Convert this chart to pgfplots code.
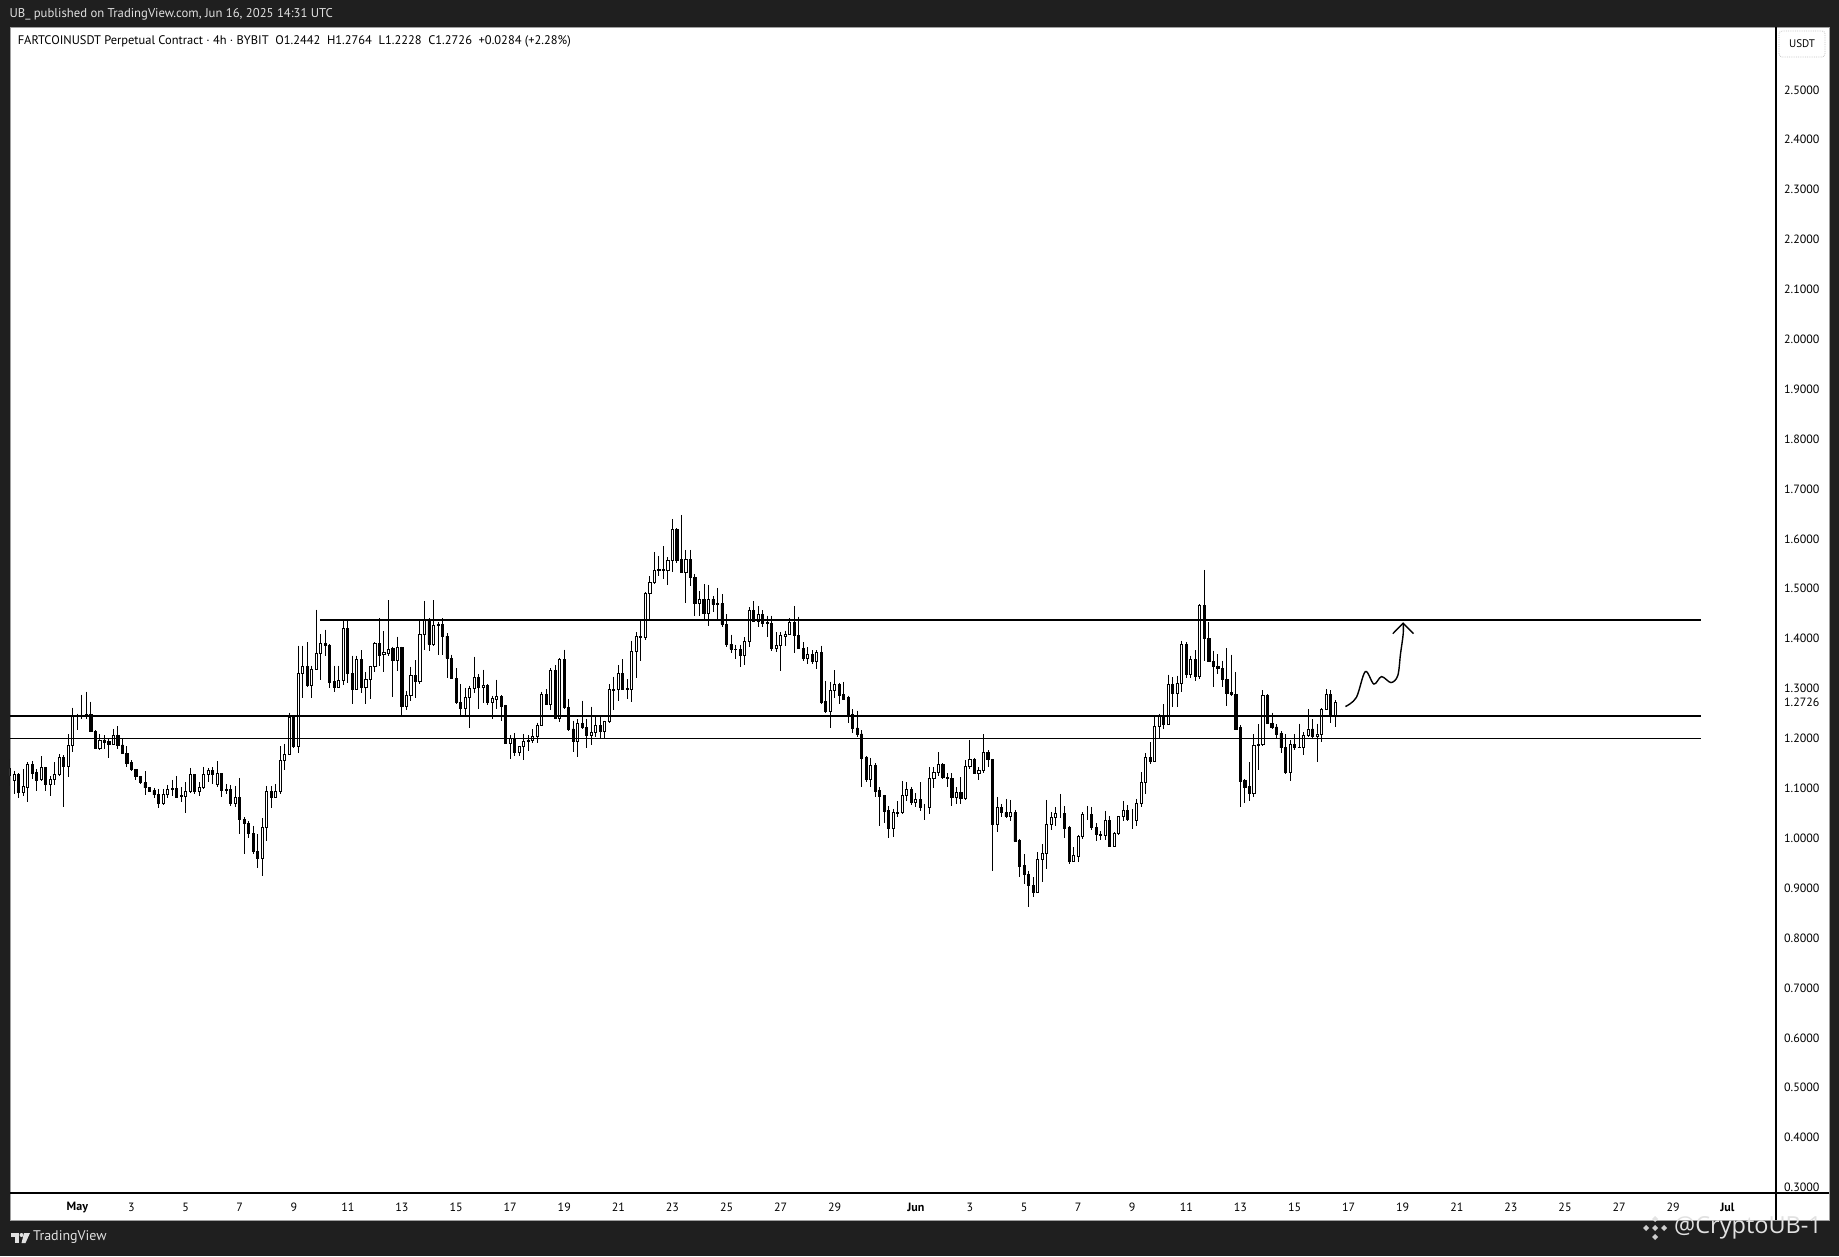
\documentclass[border=0pt]{standalone}
\usepackage{fontspec}
\setmainfont{PT Sans}
\newfontfamily\wmfont{Open Sans}
\usepackage{pgfplots}
\usepackage{pgfplotstable}
\pgfplotsset{compat=1.18}
\definecolor{tvframe}{RGB}{31,31,31}
\definecolor{tvborder}{RGB}{160,160,160}
\definecolor{tvtext}{RGB}{225,225,225}

% 4h candles, k = candle index (k/6 = days after May 1, 00:00)
\pgfplotstableread{
k o h l c
-15 1.125 1.158 1.105 1.140
-14 1.115 1.135 1.089 1.127
-13 1.127 1.130 1.081 1.092
-12 1.092 1.139 1.085 1.103
-11 1.102 1.152 1.072 1.147
-10 1.147 1.155 1.119 1.130
-9 1.132 1.139 1.095 1.115
-8 1.117 1.164 1.115 1.141
-7 1.141 1.143 1.095 1.107
-6 1.107 1.125 1.084 1.117
-5 1.117 1.152 1.107 1.127
-4 1.127 1.168 1.125 1.161
-3 1.161 1.166 1.062 1.144
-2 1.144 1.208 1.122 1.187
-1 1.187 1.262 1.172 1.244
0 1.244 1.250 1.216 1.245
1 1.245 1.288 1.239 1.246
2 1.245 1.294 1.239 1.248
3 1.248 1.274 1.212 1.214
4 1.214 1.216 1.179 1.180
5 1.180 1.209 1.176 1.197
6 1.197 1.206 1.179 1.192
7 1.194 1.199 1.161 1.189
8 1.189 1.219 1.186 1.206
9 1.206 1.224 1.179 1.187
10 1.187 1.199 1.168 1.169
11 1.169 1.184 1.143 1.150
12 1.152 1.156 1.134 1.137
13 1.137 1.139 1.117 1.124
14 1.124 1.125 1.109 1.111
15 1.111 1.134 1.087 1.101
16 1.101 1.103 1.092 1.094
17 1.095 1.101 1.081 1.087
18 1.087 1.099 1.061 1.069
19 1.069 1.099 1.067 1.087
20 1.087 1.107 1.081 1.097
21 1.098 1.117 1.085 1.099
22 1.099 1.125 1.082 1.082
23 1.084 1.102 1.072 1.085
24 1.084 1.112 1.050 1.093
25 1.093 1.141 1.090 1.127
26 1.127 1.129 1.089 1.093
27 1.093 1.112 1.085 1.101
28 1.101 1.143 1.099 1.127
29 1.127 1.141 1.112 1.135
30 1.135 1.142 1.109 1.127
31 1.107 1.154 1.102 1.129
32 1.129 1.130 1.082 1.095
33 1.097 1.109 1.089 1.095
34 1.097 1.107 1.065 1.070
35 1.070 1.105 1.062 1.081
36 1.081 1.121 1.009 1.037
37 1.038 1.042 0.968 1.030
38 1.030 1.035 1.000 1.010
39 1.010 1.025 0.968 0.974
40 0.974 1.009 0.940 0.959
41 0.959 1.041 0.924 1.021
42 1.021 1.105 0.994 1.093
43 1.093 1.105 1.061 1.082
44 1.082 1.109 1.080 1.093
45 1.093 1.184 1.089 1.156
46 1.156 1.189 1.136 1.167
47 1.167 1.252 1.166 1.242
48 1.242 1.246 1.181 1.184
49 1.184 1.386 1.170 1.331
50 1.331 1.386 1.281 1.344
51 1.344 1.393 1.304 1.306
52 1.306 1.346 1.281 1.339
53 1.339 1.458 1.337 1.371
54 1.371 1.409 1.317 1.391
55 1.391 1.418 1.366 1.387
56 1.387 1.389 1.302 1.312
57 1.314 1.346 1.294 1.302
58 1.302 1.346 1.301 1.317
59 1.317 1.439 1.308 1.421
60 1.421 1.439 1.312 1.331
61 1.331 1.366 1.270 1.299
62 1.299 1.366 1.297 1.359
63 1.359 1.377 1.292 1.302
64 1.302 1.333 1.270 1.319
65 1.319 1.346 1.279 1.344
66 1.344 1.393 1.333 1.391
67 1.391 1.441 1.346 1.366
68 1.368 1.415 1.333 1.372
69 1.370 1.477 1.366 1.379
70 1.381 1.384 1.284 1.357
71 1.357 1.404 1.336 1.383
72 1.383 1.384 1.244 1.264
73 1.264 1.296 1.257 1.287
74 1.287 1.344 1.276 1.326
75 1.326 1.357 1.281 1.314
76 1.314 1.437 1.310 1.409
77 1.409 1.476 1.377 1.436
78 1.436 1.441 1.375 1.389
79 1.389 1.477 1.386 1.426
80 1.426 1.433 1.368 1.429
81 1.429 1.441 1.368 1.405
82 1.405 1.411 1.321 1.361
83 1.361 1.368 1.319 1.321
84 1.321 1.341 1.270 1.272
85 1.272 1.309 1.248 1.261
86 1.261 1.302 1.246 1.282
87 1.282 1.306 1.220 1.300
88 1.300 1.364 1.291 1.322
89 1.322 1.329 1.260 1.302
90 1.302 1.338 1.272 1.307
91 1.307 1.309 1.267 1.272
92 1.272 1.286 1.239 1.280
93 1.279 1.318 1.260 1.284
94 1.284 1.287 1.236 1.264
95 1.266 1.268 1.189 1.191
96 1.191 1.207 1.159 1.200
97 1.200 1.211 1.164 1.172
98 1.172 1.185 1.164 1.184
99 1.184 1.209 1.156 1.194
100 1.194 1.206 1.174 1.196
101 1.196 1.218 1.191 1.204
102 1.204 1.232 1.191 1.226
103 1.226 1.294 1.224 1.289
104 1.289 1.299 1.267 1.269
105 1.269 1.341 1.258 1.336
106 1.336 1.347 1.239 1.240
107 1.240 1.361 1.234 1.359
108 1.359 1.378 1.260 1.262
109 1.262 1.280 1.214 1.218
110 1.219 1.236 1.172 1.194
111 1.194 1.239 1.162 1.231
112 1.231 1.276 1.219 1.222
113 1.222 1.240 1.180 1.206
114 1.206 1.264 1.187 1.212
115 1.212 1.244 1.202 1.226
116 1.226 1.244 1.199 1.214
117 1.214 1.236 1.199 1.234
118 1.234 1.309 1.232 1.298
119 1.297 1.324 1.258 1.299
120 1.298 1.347 1.276 1.331
121 1.331 1.359 1.298 1.299
122 1.300 1.319 1.280 1.298
123 1.298 1.396 1.274 1.374
124 1.374 1.413 1.322 1.405
125 1.405 1.436 1.356 1.402
126 1.402 1.494 1.398 1.491
127 1.491 1.525 1.439 1.513
128 1.513 1.574 1.510 1.536
129 1.536 1.566 1.526 1.538
130 1.537 1.585 1.520 1.538
131 1.536 1.563 1.508 1.556
132 1.556 1.640 1.534 1.618
133 1.618 1.621 1.552 1.556
134 1.558 1.648 1.532 1.533
135 1.533 1.578 1.471 1.558
136 1.558 1.578 1.506 1.523
137 1.523 1.530 1.446 1.471
138 1.471 1.496 1.446 1.479
139 1.479 1.509 1.439 1.451
140 1.451 1.508 1.426 1.479
141 1.479 1.486 1.453 1.469
142 1.469 1.502 1.435 1.470
143 1.470 1.489 1.424 1.429
144 1.429 1.449 1.383 1.389
145 1.389 1.408 1.371 1.379
146 1.379 1.388 1.359 1.378
147 1.379 1.388 1.343 1.367
148 1.367 1.403 1.348 1.394
149 1.394 1.463 1.384 1.457
150 1.457 1.475 1.433 1.435
151 1.435 1.466 1.423 1.449
152 1.449 1.457 1.424 1.431
153 1.431 1.446 1.403 1.432
154 1.431 1.446 1.375 1.381
155 1.381 1.413 1.373 1.387
156 1.387 1.413 1.335 1.406
157 1.405 1.416 1.386 1.409
158 1.409 1.441 1.408 1.433
159 1.433 1.466 1.371 1.406
160 1.406 1.444 1.379 1.381
161 1.381 1.393 1.355 1.361
162 1.361 1.383 1.350 1.368
163 1.368 1.377 1.350 1.354
164 1.354 1.377 1.339 1.373
165 1.373 1.386 1.270 1.272
166 1.274 1.316 1.252 1.254
167 1.254 1.314 1.221 1.296
168 1.296 1.337 1.282 1.308
169 1.308 1.312 1.270 1.286
170 1.288 1.314 1.277 1.279
171 1.282 1.286 1.232 1.248
172 1.249 1.259 1.210 1.220
173 1.221 1.256 1.202 1.208
174 1.209 1.216 1.102 1.160
175 1.161 1.164 1.112 1.117
176 1.117 1.161 1.102 1.145
177 1.145 1.150 1.083 1.094
178 1.095 1.103 1.025 1.083
179 1.085 1.087 1.030 1.054
180 1.055 1.065 1.000 1.020
181 1.020 1.059 1.002 1.051
182 1.050 1.074 1.042 1.051
183 1.051 1.115 1.049 1.085
184 1.085 1.112 1.074 1.097
185 1.097 1.103 1.067 1.072
186 1.072 1.091 1.062 1.077
187 1.077 1.112 1.054 1.062
188 1.063 1.069 1.037 1.063
189 1.061 1.143 1.049 1.119
190 1.119 1.142 1.101 1.132
191 1.132 1.172 1.125 1.148
192 1.148 1.150 1.119 1.121
193 1.121 1.130 1.103 1.120
194 1.119 1.130 1.064 1.081
195 1.081 1.102 1.069 1.091
196 1.091 1.122 1.069 1.079
197 1.079 1.156 1.077 1.144
198 1.144 1.197 1.139 1.157
199 1.157 1.161 1.129 1.130
200 1.130 1.142 1.117 1.135
201 1.135 1.208 1.130 1.172
202 1.172 1.176 1.143 1.157
203 1.157 1.159 0.935 1.027
204 1.027 1.083 1.012 1.062
205 1.062 1.069 1.043 1.051
206 1.051 1.079 1.041 1.044
207 1.044 1.077 1.034 1.051
208 1.051 1.057 0.994 0.994
209 0.995 0.999 0.922 0.944
210 0.945 0.968 0.908 0.927
211 0.928 0.935 0.863 0.906
212 0.906 0.922 0.883 0.892
213 0.892 0.972 0.890 0.958
214 0.958 0.988 0.912 0.970
215 0.970 1.077 0.938 1.027
216 1.027 1.052 1.017 1.042
217 1.042 1.062 1.025 1.049
218 1.049 1.089 1.041 1.049
219 1.049 1.065 1.000 1.020
220 1.021 1.025 0.948 0.954
221 0.954 0.982 0.952 0.965
222 0.964 1.007 0.952 1.003
223 1.003 1.052 0.999 1.047
224 1.047 1.065 1.037 1.047
225 1.047 1.063 1.017 1.022
226 1.022 1.030 0.994 1.007
227 1.007 1.014 0.997 1.006
228 1.005 1.055 0.997 1.035
229 1.035 1.045 0.982 0.983
230 0.984 1.012 0.983 1.009
231 1.009 1.045 1.007 1.043
232 1.043 1.075 1.035 1.055
233 1.055 1.067 1.034 1.037
234 1.037 1.059 1.019 1.037
235 1.035 1.079 1.024 1.069
236 1.069 1.132 1.062 1.112
237 1.112 1.170 1.089 1.162
238 1.162 1.192 1.149 1.154
239 1.154 1.244 1.152 1.224
240 1.224 1.249 1.199 1.246
241 1.246 1.269 1.219 1.229
242 1.229 1.328 1.228 1.308
243 1.308 1.323 1.264 1.290
244 1.290 1.326 1.264 1.310
245 1.310 1.396 1.294 1.389
246 1.389 1.393 1.322 1.329
247 1.329 1.366 1.321 1.358
248 1.358 1.377 1.316 1.325
249 1.325 1.469 1.319 1.466
250 1.466 1.538 1.355 1.401
251 1.401 1.433 1.353 1.355
252 1.355 1.376 1.304 1.344
253 1.345 1.369 1.329 1.341
254 1.341 1.356 1.304 1.319
255 1.319 1.381 1.266 1.290
256 1.292 1.368 1.286 1.289
257 1.289 1.333 1.217 1.219
258 1.222 1.226 1.062 1.114
259 1.115 1.119 1.070 1.102
260 1.103 1.152 1.074 1.090
261 1.090 1.208 1.083 1.186
262 1.186 1.228 1.137 1.188
263 1.188 1.297 1.184 1.286
264 1.286 1.289 1.228 1.230
265 1.230 1.252 1.219 1.222
266 1.223 1.228 1.201 1.209
267 1.210 1.214 1.170 1.181
268 1.181 1.208 1.129 1.132
269 1.132 1.196 1.114 1.188
270 1.188 1.208 1.177 1.181
271 1.181 1.230 1.180 1.182
272 1.182 1.212 1.166 1.206
273 1.206 1.259 1.202 1.219
274 1.219 1.239 1.199 1.204
275 1.204 1.230 1.152 1.209
276 1.209 1.261 1.192 1.259
277 1.259 1.299 1.257 1.289
278 1.289 1.297 1.232 1.244
279 1.2442 1.2764 1.2228 1.2726
}\candles

\pgfplotsset{
  chartbase/.style={
    at={(10pt,63pt)}, anchor=south west, scale only axis,
    width=1766pt, height=1166pt,
    xmin=-14.95, xmax=376.8, ymin=0.289, ymax=2.626,
  },
}

\begin{document}
\begin{tikzpicture}[x=1pt, y=1pt]
\useasboundingbox (0,0) rectangle (1839,1256);
\fill[tvframe] (0,0) rectangle (1839,1256);
\fill[white] (10,36) rectangle (1829,1229);
\draw[tvborder, line width=0.8pt] (10,36) rectangle (1829,1229);

% axis A: ticks, labels and wicks
\begin{axis}[chartbase,
  axis line style={draw=none},
  major tick length=0pt, tick style={draw=none},
  xtick={0,12,24,36,48,60,72,84,96,108,120,132,144,156,168,186,198,210,222,234,246,258,270,282,294,306,318,330,342,354,366},
  xticklabels={\textbf{May},3,5,7,9,11,13,15,17,19,21,23,25,27,29,\textbf{Jun},3,5,7,9,11,13,15,17,19,21,23,25,27,29,\textbf{Jul}},
  xticklabel style={anchor=center, yshift=-14.3pt, font=\fontsize{12}{12}\selectfont},
  ytick={0.3,0.4,0.5,0.6,0.7,0.8,0.9,1.0,1.1,1.2,1.2726,1.3,1.4,1.5,1.6,1.7,1.8,1.9,2.0,2.1,2.2,2.3,2.4,2.5},
  yticklabel pos=right,
  scaled y ticks=false,
  yticklabel style={anchor=center, xshift=25.8pt, font=\fontsize{12}{12}\selectfont,
    /pgf/number format/.cd, fixed, fixed zerofill, precision=4, assume math mode=true},
]
\addplot[only marks, mark=*, mark size=0.01pt, mark options={draw=none, fill=none, opacity=0}, forget plot,
  error bars/.cd, y dir=minus, y explicit, error mark=none,
  error bar style={draw=black, opacity=1, line width=1pt}]
  table[x=k, y=h, y error minus expr={\thisrow{h}-\thisrow{l}}] {\candles};
\end{axis}

% axis B: candle bodies, hollow up and filled down
\begin{axis}[chartbase, hide axis, ybar stacked, bar width=0.47]
\addplot[draw=none, fill=none] table[x=k, y expr={min(\thisrow{o},\thisrow{c})}] {\candles};
\addplot[draw=black, fill=white, line width=0.9pt] table[x=k, y expr={max(\thisrow{c}-\thisrow{o},0)}] {\candles};
\addplot[draw=black, fill=black, line width=0.9pt] table[x=k, y expr={max(\thisrow{o}-\thisrow{c},0)}] {\candles};
\end{axis}

% axis C: horizontal levels and the drawn arrow
\begin{axis}[chartbase, hide axis]
\addplot[black, line width=1.7pt] coordinates {(53.8,1.438) (360.1,1.438)};
\addplot[black, line width=1.7pt] coordinates {(-20,1.2445) (360.1,1.2445)};
\addplot[black, line width=1.7pt] coordinates {(-20,1.2) (360.1,1.2)};
\addplot[black, line width=1.4pt, smooth, tension=0.55] coordinates {
  (281.3,1.264) (283.7,1.282) (285.7,1.334) (287.6,1.309) (289.3,1.324)
  (291.4,1.312) (292.9,1.326) (293.5,1.369) (294.1,1.409) (294.1,1.431)};
\addplot[black, line width=1.4pt] coordinates {(291.8,1.410) (294.1,1.431) (296.4,1.410)};
\end{axis}

% frame lines of the price and time scales
\draw[black, line width=1.1pt] (10,63) -- (1829,63);
\draw[black, line width=1.1pt] (1776,36) -- (1776,1229);

% currency box
\draw[tvborder!60, densely dotted, rounded corners=3pt, line width=0.8pt] (1779,1199) rectangle (1825,1225);
\node[font=\fontsize{11}{11}\selectfont] at (1802,1212) {USDT};

% texts
\node[anchor=west, inner sep=0pt, text=tvtext, font=\fontsize{12.7}{12.7}\selectfont] at (9.4,1242) {UB\_ published on TradingView.com, Jun 16, 2025 14:31 UTC};
\node[anchor=west, inner sep=0pt, font=\fontsize{12.45}{12.45}\selectfont] at (17.6,1215) {FARTCOINUSDT Perpetual Contract · 4h · BYBIT\ \ O1.2442\ \ H1.2764\ \ L1.2228\ \ C1.2726\ \ +0.0284 (+2.28\%)};

% TradingView logo and name
\fill[tvtext] (11,19) rectangle (19,23);
\fill[tvtext] (15,13) rectangle (19,23);
\fill[tvtext] (21.5,21) circle (2);
\fill[tvtext] (24,23) -- (30,23) -- (25.5,13) -- (21.5,13) -- cycle;
\node[anchor=west, inner sep=0pt, text=tvtext, font=\fontsize{14}{14}\selectfont] at (33,18.5) {TradingView};

% watermark
\begin{scope}[tvtext, opacity=0.9]
\foreach \dx/\dy in {0/0,-9/0,9/0,0/-9,0/9}{
  \fill (1655+\dx,28+\dy+3) -- (1655+\dx+3,28+\dy) -- (1655+\dx,28+\dy-3) -- (1655+\dx-3,28+\dy) -- cycle;
}
\end{scope}
\node[anchor=west, inner sep=0pt, text=tvtext, font=\wmfont\fontsize{23.5}{23.5}\selectfont] at (1674,28) {@CryptoUB-1};
\end{tikzpicture}
\end{document}
